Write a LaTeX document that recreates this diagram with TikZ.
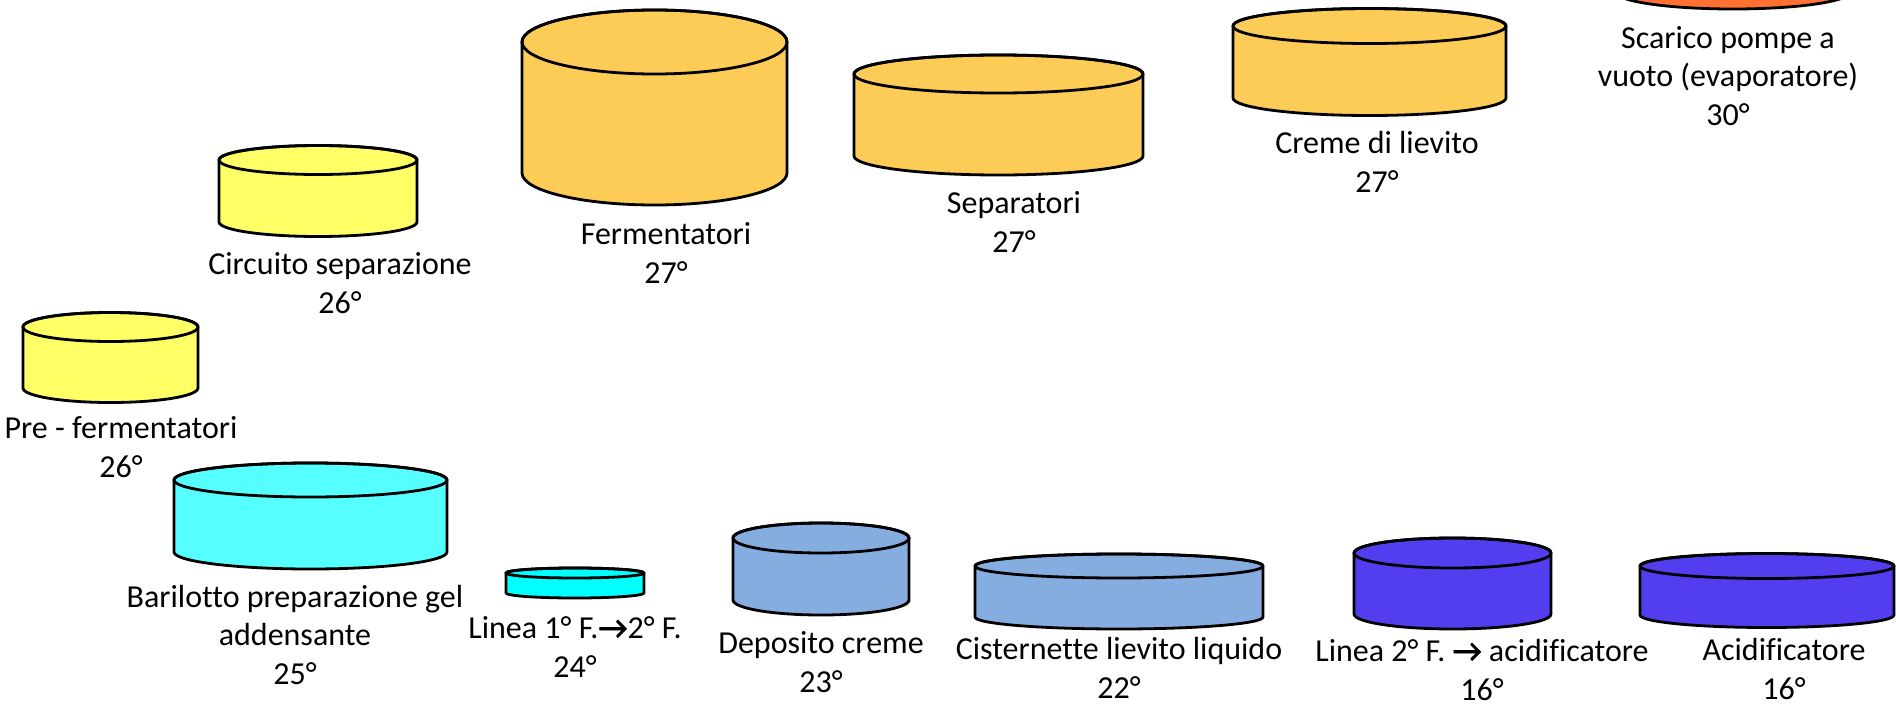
\documentclass[tikz,border=0pt]{standalone}
\usepackage{fontspec}
\setmainfont{Carlito}[Ligatures=NoCommon]
\newfontfamily\arrowfont{Carlito}[FakeBold=2.5]
\newcommand\toarrow{{\arrowfont →}}

\definecolor{tankyellow}{RGB}{255,255,102}
\definecolor{tankgold}{RGB}{253,204,86}
\definecolor{tankorange}{RGB}{255,112,50}
\definecolor{tankcyan}{RGB}{85,255,255}
\definecolor{tankaqua}{RGB}{0,255,255}
\definecolor{tanksky}{RGB}{134,173,224}
\definecolor{tankviolet}{RGB}{82,62,238}

% \tank{centre x}{x radius}{y radius}{top y}{bottom y}{fill}
\newcommand\tank[6]{%
  \filldraw[tankline,fill=#6] ({#1-#2},#4) -- ({#1-#2},#5)
    arc[start angle=180,end angle=360,x radius=#2pt,y radius=#3pt]
    -- ({#1+#2},#4)
    arc[start angle=0,end angle=180,x radius=#2pt,y radius=#3pt] -- cycle;
  \draw[tankline] (#1,#4) ellipse[x radius=#2pt,y radius=#3pt];}

\begin{document}
\begin{tikzpicture}[x=1pt,y=-1pt,
  tankline/.style={draw=black,line width=2.8pt,line join=round},
  % labels are placed by the baseline of their last line
  lbl/.style={anchor=base,align=center,inner sep=0pt,
    font=\fontsize{32}{38.5}\selectfont}]
\useasboundingbox (0,0) rectangle (1896,707);
\fill[white] (0,0) rectangle (1896,707);
\clip (0,0) rectangle (1896,707);

% upper row of vessels
\tank{318}{99}{14.5}{160}{222}{tankyellow}
\tank{110.5}{87.5}{14.5}{327}{388}{tankyellow}
\tank{654.5}{132.5}{32}{42}{173}{tankgold}
\tank{998.5}{144.5}{19}{74}{156}{tankgold}
\tank{1369.5}{136.5}{17.5}{26}{98}{tankgold}
\tank{1733}{117}{17}{-100}{-8}{tankorange}

% lower row of vessels
\tank{310.5}{136.5}{17}{480}{552}{tankcyan}
\tank{575}{69}{5}{573}{593}{tankaqua}
\tank{821}{88}{15}{538}{600}{tanksky}
\tank{1119}{144}{12}{566}{617}{tanksky}
\tank{1452.5}{98.5}{15}{553}{614}{tankviolet}
\tank{1767}{127}{12.5}{566}{615}{tankviolet}

% labels
\node[lbl] (circuito) at (340,313) {Circuito separazione\\26°};
\node[lbl] (prefer) at (121,477) {Pre - fermentatori\\26°};
\node[lbl] (ferm) at (666,283) {Fermentatori\\27°};
\node[lbl] (separ) at (1014,252) {Separatori\\27°};
\node[lbl] (creme) at (1377,192) {Creme di lievito\\27°};
\node[lbl] (scarico) at (1728,125) {Scarico pompe a\\vuoto (evaporatore)\\30°};
\node[lbl] (barilotto) at (295,684) {Barilotto preparazione gel\\addensante\\25°};
\node[lbl] (lineaA) at (575,677) {Linea 1° F.\toarrow2° F.\\24°};
\node[lbl] (deposito) at (821,692) {Deposito creme\\23°};
\node[lbl] (cistern) at (1119,698) {Cisternette lievito liquido\\22°};
\node[lbl] (lineaB) at (1482,700) {Linea 2° F. \toarrow{} acidificatore\\16°};
\node[lbl] (acidif) at (1784,699) {Acidificatore\\16°};
\end{tikzpicture}
\end{document}
